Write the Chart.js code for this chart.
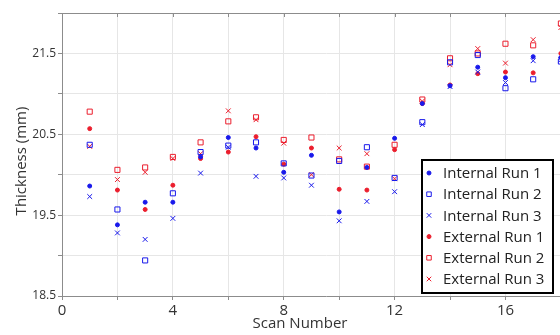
<!DOCTYPE html>
<html>
<head>
<meta charset="utf-8">
<script src="https://cdn.jsdelivr.net/npm/chart.js@4.4.1/dist/chart.umd.min.js"></script>
<style>
  html, body { margin: 0; padding: 0; background: #fff; overflow: hidden; }
  #wrap { width: 600px; height: 335px; }
</style>
</head>
<body>
<div id="wrap"><canvas id="c" width="600" height="335"></canvas></div>
<script>
// scan numbers and thickness readings (mm)
const scans = [1, 2, 3, 4, 5, 6, 7, 8, 9, 10, 11, 12, 13, 14, 15, 16, 17, 18];
const internalRun1 = [19.86, 19.38, 19.66, 19.66, 20.22, 20.46, 20.33, 20.03, 20.24, 19.54, 20.09, 20.45, 20.88, 21.10, 21.33, 21.20, 21.46, 21.45];
const internalRun2 = [20.37, 19.57, 18.94, 19.77, 20.28, 20.36, 20.40, 20.14, 19.99, 20.17, 20.34, 19.96, 20.65, 21.39, 21.48, 21.07, 21.18, 21.40];
const internalRun3 = [19.73, 19.28, 19.20, 19.46, 20.02, 20.34, 19.98, 19.96, 19.87, 19.43, 19.67, 19.79, 20.62, 21.09, 21.27, 21.14, 21.41, 21.42];
const externalRun1 = [20.57, 19.81, 19.57, 19.87, 20.20, 20.28, 20.47, 20.13, 20.33, 19.82, 19.81, 20.31, 20.88, 21.11, 21.25, 21.27, 21.26, 21.50];
const externalRun2 = [20.78, 20.06, 20.09, 20.22, 20.40, 20.66, 20.71, 20.43, 20.46, 20.19, 20.10, 20.37, 20.93, 21.44, 21.50, 21.62, 21.60, 21.87];
const externalRun3 = [20.35, 19.94, 20.03, 20.20, 20.26, 20.79, 20.68, 20.39, 20.00, 20.33, 20.26, 19.95, 20.91, 21.36, 21.56, 21.38, 21.67, 21.82];
const xLabels = [0, 4, 8, 12, 16];
const yLabels = [18.5, 19.5, 20.5, 21.5];

const BLUE = 'rgb(25,25,235)';
const RED = 'rgb(235,30,45)';

function pts(vals) {
  return scans.map((s, i) => ({ x: s, y: vals[i] }));
}

const series = [
  { label: 'Internal Run 1', data: internalRun1, color: BLUE, style: 'circle', radius: 2, fill: true },
  { label: 'Internal Run 2', data: internalRun2, color: BLUE, style: 'rect', radius: 3.6, fill: false },
  { label: 'Internal Run 3', data: internalRun3, color: BLUE, style: 'crossRot', radius: 3.4, fill: false },
  { label: 'External Run 1', data: externalRun1, color: RED, style: 'circle', radius: 2, fill: true },
  { label: 'External Run 2', data: externalRun2, color: RED, style: 'rect', radius: 3.6, fill: false },
  { label: 'External Run 3', data: externalRun3, color: RED, style: 'crossRot', radius: 3.4, fill: false }
];

const datasets = series.map(s => ({
  label: s.label,
  data: pts(s.data),
  pointStyle: s.style,
  pointRadius: s.radius,
  pointHoverRadius: s.radius,
  borderWidth: 1,
  borderColor: s.color,
  backgroundColor: s.fill ? s.color : 'rgba(0,0,0,0)'
}));

// frame, axis titles and the boxed legend inside the plot
const extras = {
  id: 'extras',
  afterDraw(chart) {
    const { ctx, chartArea: a, scales } = chart;
    ctx.save();
    ctx.strokeStyle = '#8c8c8c';
    ctx.lineWidth = 1;
    ctx.beginPath();
    ctx.moveTo(a.left, a.top + 0.5);
    ctx.lineTo(a.right, a.top + 0.5);
    for (let v = 2; v <= 18; v += 2) {
      const px = Math.round(scales.x.getPixelForValue(v)) + 0.5;
      ctx.moveTo(px, a.top);
      ctx.lineTo(px, a.top + 4);
    }
    ctx.stroke();

    ctx.fillStyle = '#333';
    ctx.font = '15px "Open Sans"';
    ctx.textAlign = 'center';
    ctx.textBaseline = 'middle';
    ctx.fillText('Scan Number', 300, 324);
    ctx.save();
    ctx.translate(22, 161);
    ctx.rotate(-Math.PI / 2);
    ctx.fillText('Thickness (mm)', 0, 0);
    ctx.restore();

    // legend
    const bx = 422, by = 160, bw = 131, bh = 133;
    ctx.fillStyle = '#fff';
    ctx.fillRect(bx, by, bw, bh);
    ctx.strokeStyle = '#000';
    ctx.lineWidth = 2;
    ctx.strokeRect(bx, by, bw, bh);
    ctx.font = '15px "Open Sans"';
    ctx.textAlign = 'left';
    series.forEach((s, i) => {
      const y = by + 13 + i * 21.2;
      ctx.strokeStyle = s.color;
      ctx.fillStyle = s.fill ? s.color : 'rgba(0,0,0,0)';
      ctx.lineWidth = 1;
      Chart.helpers.drawPoint(ctx, {
        pointStyle: s.style, radius: s.style === 'circle' ? 2 : 3.2, borderWidth: 1, rotation: 0
      }, bx + 7, y);
      ctx.fillStyle = '#222';
      ctx.fillText(s.label, bx + 21, y + 1);
    });
    ctx.restore();
  }
};

new Chart(document.getElementById('c'), {
  type: 'scatter',
  data: { datasets },
  plugins: [extras],
  options: {
    responsive: false,
    animation: false,
    layout: { padding: { top: 13, right: 10, left: 0, bottom: 0 } },
    plugins: { legend: { display: false }, tooltip: { enabled: false } },
    scales: {
      x: {
        type: 'linear',
        min: 0,
        max: 19.05,
        afterFit(scale) { scale.height = 39; },
        border: { color: '#8c8c8c' },
        grid: { color: '#e6e6e6', tickColor: '#8c8c8c', tickLength: 4 },
        ticks: {
          stepSize: 2,
          includeBounds: false,
          maxRotation: 0,
          autoSkip: false,
          padding: 2,
          color: '#333',
          font: { family: 'Open Sans', size: 15 },
          callback: v => xLabels.includes(v) ? String(v) : ''
        }
      },
      y: {
        type: 'linear',
        min: 18.5,
        max: 22,
        afterFit(scale) { scale.width = 62; },
        border: { color: '#8c8c8c' },
        grid: { color: '#e6e6e6', tickColor: '#8c8c8c', tickLength: 4 },
        ticks: {
          stepSize: 0.5,
          autoSkip: false,
          padding: 2,
          color: '#333',
          font: { family: 'Open Sans', size: 12 },
          callback: v => yLabels.includes(v) ? v.toFixed(1) : ''
        }
      }
    }
  }
});
</script>
</body>
</html>
